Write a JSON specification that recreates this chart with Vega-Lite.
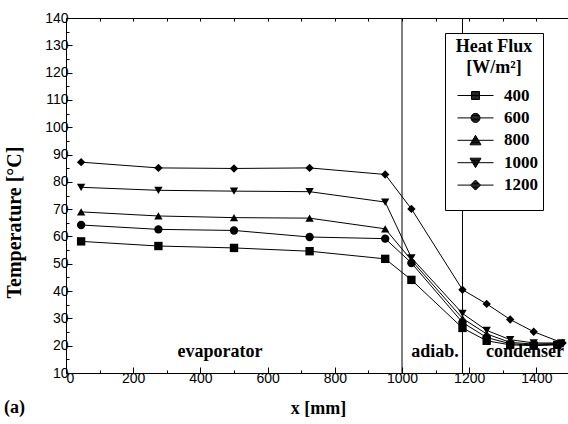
{
  "$schema": "https://vega.github.io/schema/vega-lite/v6.json",
  "width": 504,
  "height": 355,
  "autosize": "none",
  "padding": {"left": 66, "top": 18, "right": 0, "bottom": 51},
  "background": "white",
  "title": {"text": "(a)", "orient": "bottom", "anchor": "start", "frame": "bounds", "font": "Liberation Serif", "fontWeight": "bold", "fontSize": 18, "color": "black", "offset": -18},
  "config": {
    "view": {"stroke": "black", "strokeWidth": 1},
    "axis": {"domain": false, "grid": false, "tickColor": "black", "tickWidth": 1, "labelColor": "black", "labelFont": "Liberation Sans", "labelFontSize": 14, "titleFont": "Liberation Serif", "titleFontSize": 18, "titleFontWeight": "bold", "titleColor": "black"}
  },
  "datasets": {
    "temps": [
      {"flux": 400, "x": 45, "t": 58.2}, {"flux": 400, "x": 275, "t": 56.5}, {"flux": 400, "x": 500, "t": 55.8}, {"flux": 400, "x": 725, "t": 54.6}, {"flux": 400, "x": 950, "t": 51.8}, {"flux": 400, "x": 1028, "t": 44.1}, {"flux": 400, "x": 1180, "t": 26.5}, {"flux": 400, "x": 1252, "t": 21.8}, {"flux": 400, "x": 1322, "t": 20.3}, {"flux": 400, "x": 1392, "t": 20.0}, {"flux": 400, "x": 1462, "t": 20.3},
      {"flux": 600, "x": 45, "t": 64.2}, {"flux": 600, "x": 275, "t": 62.6}, {"flux": 600, "x": 500, "t": 62.2}, {"flux": 600, "x": 725, "t": 59.8}, {"flux": 600, "x": 950, "t": 59.2}, {"flux": 600, "x": 1028, "t": 50.3}, {"flux": 600, "x": 1180, "t": 28.5}, {"flux": 600, "x": 1252, "t": 23.0}, {"flux": 600, "x": 1322, "t": 20.7}, {"flux": 600, "x": 1392, "t": 20.3}, {"flux": 600, "x": 1466, "t": 20.5},
      {"flux": 800, "x": 45, "t": 69.0}, {"flux": 800, "x": 275, "t": 67.5}, {"flux": 800, "x": 500, "t": 66.9}, {"flux": 800, "x": 725, "t": 66.7}, {"flux": 800, "x": 950, "t": 62.8}, {"flux": 800, "x": 1028, "t": 51.3}, {"flux": 800, "x": 1180, "t": 30.0}, {"flux": 800, "x": 1252, "t": 24.3}, {"flux": 800, "x": 1322, "t": 21.2}, {"flux": 800, "x": 1392, "t": 20.6}, {"flux": 800, "x": 1470, "t": 20.8},
      {"flux": 1000, "x": 45, "t": 78.0}, {"flux": 1000, "x": 275, "t": 76.9}, {"flux": 1000, "x": 500, "t": 76.6}, {"flux": 1000, "x": 725, "t": 76.4}, {"flux": 1000, "x": 950, "t": 72.6}, {"flux": 1000, "x": 1028, "t": 52.2}, {"flux": 1000, "x": 1180, "t": 31.8}, {"flux": 1000, "x": 1252, "t": 25.6}, {"flux": 1000, "x": 1322, "t": 22.2}, {"flux": 1000, "x": 1392, "t": 21.0}, {"flux": 1000, "x": 1474, "t": 21.0},
      {"flux": 1200, "x": 45, "t": 87.2}, {"flux": 1200, "x": 275, "t": 85.1}, {"flux": 1200, "x": 500, "t": 84.9}, {"flux": 1200, "x": 725, "t": 85.1}, {"flux": 1200, "x": 950, "t": 82.7}, {"flux": 1200, "x": 1028, "t": 70.1}, {"flux": 1200, "x": 1180, "t": 40.5}, {"flux": 1200, "x": 1252, "t": 35.3}, {"flux": 1200, "x": 1322, "t": 29.6}, {"flux": 1200, "x": 1392, "t": 25.1}, {"flux": 1200, "x": 1478, "t": 21.0}
    ],
    "walls": [{"x": 1000}, {"x": 1180}],
    "zones": [
      {"x": 458, "y": 15.8, "label": "evaporator"},
      {"x": 1098, "y": 15.8, "label": "adiab."},
      {"x": 1366, "y": 15.8, "label": "condenser"}
    ]
  },
  "layer": [
    {
      "data": {"name": "walls"},
      "mark": {"type": "rule", "color": "black", "strokeWidth": 1},
      "encoding": {
        "x": {"field": "x", "type": "quantitative", "scale": {"domain": [0, 1500], "nice": false, "zero": false},
              "axis": {"orient": "top", "values": [100, 200, 300, 400, 500, 600, 700, 800, 900, 1000, 1100, 1200, 1300, 1400], "tickSize": -3, "labels": false, "title": null}}
      }
    },
    {
      "data": {"name": "temps"},
      "mark": {"type": "line", "color": "black", "strokeWidth": 1},
      "encoding": {
        "x": {"field": "x", "type": "quantitative", "scale": {"domain": [0, 1500], "nice": false, "zero": false},
              "axis": {"orient": "bottom", "values": [0, 200, 400, 600, 800, 1000, 1200, 1400], "format": "d", "tickSize": -6, "labelPadding": 4, "title": "x [mm]", "titlePadding": 14}},
        "y": {"field": "t", "type": "quantitative", "scale": {"domain": [10, 140], "nice": false, "zero": false},
              "axis": {"orient": "left", "values": [10, 20, 30, 40, 50, 60, 70, 80, 90, 100, 110, 120, 130, 140], "tickSize": -6, "labelPadding": 4, "title": "Temperature [°C]", "titleX": -42, "titleY": 204, "titleFontSize": 20}},
        "detail": {"field": "flux", "type": "nominal"}
      }
    },
    {
      "data": {"name": "temps"},
      "mark": {"type": "point", "filled": true, "color": "black", "size": 70, "opacity": 1},
      "encoding": {
        "x": {"field": "x", "type": "quantitative",
              "axis": {"orient": "bottom", "values": [100, 300, 500, 700, 900, 1100, 1300, 1500], "tickSize": -3, "labels": false, "title": null}},
        "y": {"field": "t", "type": "quantitative",
              "axis": {"orient": "left", "values": [15, 25, 35, 45, 55, 65, 75, 85, 95, 105, 115, 125, 135], "tickSize": -3, "labels": false, "title": null}},
        "shape": {
          "field": "flux", "type": "nominal",
          "scale": {"domain": [400, 600, 800, 1000, 1200], "range": ["square", "circle", "triangle-up", "triangle-down", "diamond"]},
          "legend": null
        }
      }
    },
    {
      "data": {"name": "temps"},
      "mark": {"type": "point", "filled": false, "color": "black", "size": 0, "opacity": 0},
      "encoding": {
        "x": {"field": "x", "type": "quantitative", "axis": null},
        "y": {"field": "t", "type": "quantitative", "axis": null},
        "shape": {
          "field": "flux", "type": "nominal",
          "scale": {"domain": [400, 600, 800, 1000, 1200], "range": [
            "M-0.3,0H3.3 M1.1,-0.4H1.9V0.4H1.1Z M1.1,-0.32H1.9 M1.1,-0.24H1.9 M1.1,-0.16H1.9 M1.1,-0.08H1.9 M1.1,0.08H1.9 M1.1,0.16H1.9 M1.1,0.24H1.9 M1.1,0.32H1.9",
            "M-0.3,0H3.3 M1.05,0A0.45,0.45,0,1,1,1.95,0A0.45,0.45,0,1,1,1.05,0Z M1.057,-0.08H1.943 M1.057,0.08H1.943 M1.079,-0.16H1.921 M1.079,0.16H1.921 M1.119,-0.24H1.881 M1.119,0.24H1.881 M1.184,-0.32H1.816 M1.184,0.32H1.816 M1.294,-0.4H1.706 M1.294,0.4H1.706",
            "M-0.3,0H3.3 M1.5,-0.5L2.05,0.45L0.95,0.45Z M1.454,-0.42H1.546 M1.407,-0.34H1.593 M1.361,-0.26H1.639 M1.315,-0.18H1.685 M1.268,-0.1H1.732 M1.222,-0.02H1.778 M1.176,0.06H1.824 M1.129,0.14H1.871 M1.083,0.22H1.917 M1.037,0.3H1.963 M0.991,0.38H2.009",
            "M-0.3,0H3.3 M1.5,0.5L2.05,-0.45L0.95,-0.45Z M1.454,0.42H1.546 M1.407,0.34H1.593 M1.361,0.26H1.639 M1.315,0.18H1.685 M1.268,0.1H1.732 M1.222,0.02H1.778 M1.176,-0.06H1.824 M1.129,-0.14H1.871 M1.083,-0.22H1.917 M1.037,-0.3H1.963 M0.991,-0.38H2.009",
            "M-0.3,0H3.3 M1.5,-0.5L2,0L1.5,0.5L1,0Z M1.08,-0.08H1.92 M1.08,0.08H1.92 M1.16,-0.16H1.84 M1.16,0.16H1.84 M1.24,-0.24H1.76 M1.24,0.24H1.76 M1.32,-0.32H1.68 M1.32,0.32H1.68 M1.4,-0.4H1.6 M1.4,0.4H1.6 M1.5,1.7"
          ]},
          "legend": {
            "orient": "none", "legendX": 379, "legendY": 15,
            "title": ["Heat Flux", "[W/m²]"],
            "titleFont": "Liberation Serif", "titleFontSize": 18, "titleFontWeight": "bold", "titleColor": "black",
            "titleAnchor": "middle", "titleAlign": "center", "titleLineHeight": 21, "titlePadding": 8,
            "labelFont": "Liberation Serif", "labelFontSize": 17, "labelFontWeight": "bold", "labelColor": "black",
            "labelOffset": 33, "symbolSize": 400, "rowPadding": 3.4, "padding": 5,
            "symbolOpacity": 1, "symbolStrokeColor": "black", "symbolStrokeWidth": 1,
            "strokeColor": "black", "fillColor": "white",
            "labelExpr": "datum.value < 1000 ? ' ' + datum.label + ' ' : datum.label + ' '"
          }
        }
      }
    },
    {
      "data": {"name": "zones"},
      "mark": {"type": "text", "font": "Liberation Serif", "fontWeight": "bold", "fontSize": 18, "baseline": "alphabetic", "color": "black"},
      "encoding": {
        "x": {"field": "x", "type": "quantitative", "axis": null},
        "y": {"field": "y", "type": "quantitative", "axis": null},
        "text": {"field": "label"}
      }
    }
  ],
  "resolve": {"scale": {"shape": "independent"}, "legend": {"shape": "independent"}, "axis": {"x": "independent", "y": "independent"}}
}
